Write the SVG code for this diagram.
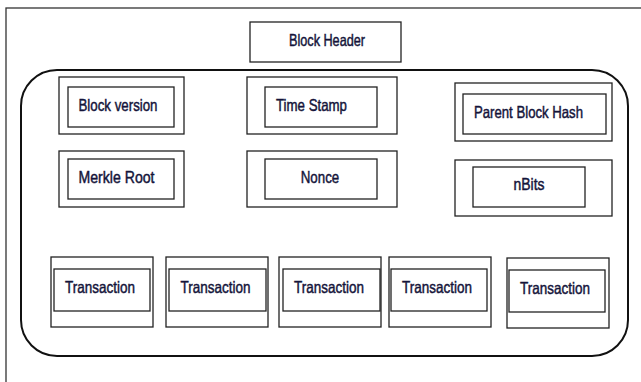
<svg xmlns="http://www.w3.org/2000/svg" width="641" height="382" viewBox="0 0 641 382">
<style>
.box{fill:none;stroke:#222;stroke-width:1.3}
.frame{fill:none;stroke:#333;stroke-width:1.3}
.round{fill:none;stroke:#111;stroke-width:2}
text{font-family:"Liberation Sans",Arial,sans-serif;font-size:16.5px;fill:#14143a;stroke:#14143a;stroke-width:0.45;text-anchor:middle}
</style>
<rect x="0" y="0" width="641" height="382" fill="#ffffff"/>
<rect class="frame" x="6" y="8" width="700" height="500"/>
<g id="block-header">
<rect class="box" x="250" y="22" width="151" height="40"/>
<text x="327" y="46" textLength="76" lengthAdjust="spacingAndGlyphs">Block Header</text>
</g>
<g id="block">
<rect class="round" x="21" y="70" width="607" height="286" rx="36" ry="36"/>
</g>
<g id="block-version">
<rect class="box" x="59" y="77" width="125" height="57"/>
<rect class="box" x="68" y="87" width="106" height="40"/>
<text x="118" y="111" textLength="79" lengthAdjust="spacingAndGlyphs">Block version</text>
</g>
<g id="time-stamp">
<rect class="box" x="247" y="77" width="150" height="57"/>
<rect class="box" x="265" y="87" width="112" height="40"/>
<text x="311.5" y="111" textLength="71" lengthAdjust="spacingAndGlyphs">Time Stamp</text>
</g>
<g id="parent-block-hash">
<rect class="box" x="455" y="83" width="157" height="58"/>
<rect class="box" x="463" y="94" width="143" height="40"/>
<text x="528.5" y="118" textLength="109" lengthAdjust="spacingAndGlyphs">Parent Block Hash</text>
</g>
<g id="merkle-root">
<rect class="box" x="59" y="151" width="125" height="56"/>
<rect class="box" x="68" y="159" width="106" height="40"/>
<text x="116.5" y="183" textLength="76" lengthAdjust="spacingAndGlyphs">Merkle Root</text>
</g>
<g id="nonce">
<rect class="box" x="247" y="151" width="150" height="56"/>
<rect class="box" x="265" y="159" width="112" height="40"/>
<text x="320" y="183" textLength="38.5" lengthAdjust="spacingAndGlyphs">Nonce</text>
</g>
<g id="nbits">
<rect class="box" x="455" y="160" width="157" height="56"/>
<rect class="box" x="473" y="167" width="112" height="40"/>
<text x="529" y="190" textLength="31" lengthAdjust="spacingAndGlyphs">nBits</text>
</g>
<g id="transaction-1">
<rect class="box" x="51" y="257" width="102" height="70"/>
<rect class="box" x="54" y="269" width="96" height="42"/>
<text x="100" y="293" textLength="70" lengthAdjust="spacingAndGlyphs">Transaction</text>
</g>
<g id="transaction-2">
<rect class="box" x="166" y="257" width="102" height="70"/>
<rect class="box" x="169" y="269" width="97" height="42"/>
<text x="215.5" y="293" textLength="70" lengthAdjust="spacingAndGlyphs">Transaction</text>
</g>
<g id="transaction-3">
<rect class="box" x="279" y="257" width="102" height="70"/>
<rect class="box" x="283" y="269" width="97" height="42"/>
<text x="329" y="293" textLength="70" lengthAdjust="spacingAndGlyphs">Transaction</text>
</g>
<g id="transaction-4">
<rect class="box" x="389" y="257" width="102" height="70"/>
<rect class="box" x="391" y="269" width="96" height="42"/>
<text x="437" y="293" textLength="70" lengthAdjust="spacingAndGlyphs">Transaction</text>
</g>
<g id="transaction-5">
<rect class="box" x="507" y="258" width="102" height="70"/>
<rect class="box" x="509" y="270" width="96" height="42"/>
<text x="555" y="294" textLength="70" lengthAdjust="spacingAndGlyphs">Transaction</text>
</g>
<g id="connectors"></g>
</svg>
